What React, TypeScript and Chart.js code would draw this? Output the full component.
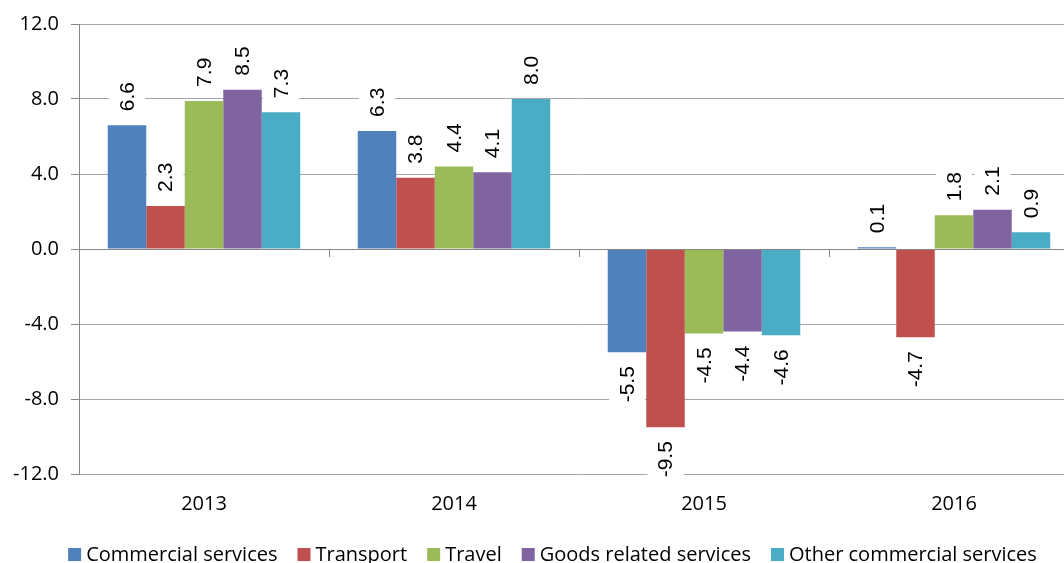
import React, { useEffect, useRef } from "react";
import { Chart, registerables } from "chart.js";

Chart.register(...registerables);

const categories = ["2013", "2014", "2015", "2016"];
const seriesNames = [
  "Commercial services",
  "Transport",
  "Travel",
  "Goods related services",
  "Other commercial services",
];
const commercialServices = [6.6, 6.3, -5.5, 0.1];
const transport = [2.3, 3.8, -9.5, -4.7];
const travel = [7.9, 4.4, -4.5, 1.8];
const goodsRelated = [8.5, 4.1, -4.4, 2.1];
const otherCommercial = [7.3, 8.0, -4.6, 0.9];
const seriesValues = [commercialServices, transport, travel, goodsRelated, otherCommercial];
const seriesColors = ["#4F81BD", "#C0504D", "#9BBB59", "#8064A2", "#4BACC6"];
const yMin = -12;
const yMax = 12;
const yStep = 4;

const AXIS_COLOR = "#868686";
const GRID_COLOR = "#A6A6A6";
const AXIS_FONT = '"Open Sans", "DejaVu Sans", sans-serif';
const LABEL_FONT = '"Liberation Sans", Arial, sans-serif';

const barLabelPlugin = {
  id: "barLabels",
  afterDatasetsDraw(chart: any) {
    const ctx = chart.ctx;
    ctx.save();
    ctx.font = `21px ${LABEL_FONT}`;
    chart.data.datasets.forEach((ds: any, di: number) => {
      const meta = chart.getDatasetMeta(di);
      meta.data.forEach((bar: any, i: number) => {
        const v = ds.data[i] as number;
        const text = v.toFixed(1);
        const w = ctx.measureText(text).width;
        const pos = v >= 0;
        ctx.save();
        ctx.translate(bar.x, pos ? bar.y - 14 : bar.y + 14);
        ctx.rotate(-Math.PI / 2);
        ctx.fillStyle = "#FFFFFF";
        if (pos) ctx.fillRect(-7, -18, w + 14, 36);
        else ctx.fillRect(-w - 7, -18, w + 14, 36);
        ctx.fillStyle = "#000000";
        ctx.textAlign = "left";
        ctx.textBaseline = "middle";
        ctx.fillText(text, pos ? 0 : -w, 1);
        ctx.restore();
      });
    });
    ctx.restore();
  },
};

const categoryTickPlugin = {
  id: "categoryTicks",
  afterDatasetsDraw(chart: any) {
    const ctx = chart.ctx;
    const xs = chart.scales.x;
    const ys = chart.scales.y;
    const y0 = ys.getPixelForValue(0);
    const n = chart.data.labels.length;
    const step = n > 1 ? xs.getPixelForValue(1) - xs.getPixelForValue(0) : xs.width;
    ctx.save();
    ctx.strokeStyle = AXIS_COLOR;
    ctx.lineWidth = 1;
    ctx.beginPath();
    ctx.moveTo(chart.chartArea.left, Math.round(y0) + 0.5);
    ctx.lineTo(chart.chartArea.right, Math.round(y0) + 0.5);
    for (let i = 0; i <= n; i++) {
      const x = Math.round(xs.getPixelForValue(0) - step / 2 + i * step) + 0.5;
      ctx.moveTo(x, y0);
      ctx.lineTo(x, y0 + 8);
    }
    ctx.stroke();
    ctx.restore();
  },
};

const customLegendPlugin = {
  id: "customLegend",
  afterDraw(chart: any) {
    const ctx = chart.ctx;
    ctx.save();
    ctx.font = `20px ${AXIS_FONT}`;
    const box = 13;
    const gap = 5;
    const spacing = 20;
    const items = chart.data.datasets.map((ds: any) => ({
      label: ds.label as string,
      color: ds.backgroundColor as string,
      w: ctx.measureText(ds.label).width,
    }));
    const total =
      items.reduce((s: number, it: any) => s + box + gap + it.w, 0) + spacing * (items.length - 1);
    let x = 552.5 - total / 2;
    const cy = 554.5;
    ctx.textBaseline = "middle";
    ctx.textAlign = "left";
    items.forEach((it: any) => {
      ctx.fillStyle = it.color;
      ctx.fillRect(x, cy - box / 2, box, box);
      ctx.fillStyle = "#000000";
      ctx.fillText(it.label, x + box + gap, cy + 1);
      x += box + gap + it.w + spacing;
    });
    ctx.restore();
  },
};

export default function App() {
  const canvasRef = useRef<HTMLCanvasElement | null>(null);

  useEffect(() => {
    if (!canvasRef.current) return;
    const chart = new Chart(canvasRef.current, {
      type: "bar",
      data: {
        labels: categories,
        datasets: seriesNames.map((name, i) => ({
          label: name,
          data: seriesValues[i],
          backgroundColor: seriesColors[i],
          borderWidth: 0,
          categoryPercentage: 0.77,
          barPercentage: 1,
        })),
      },
      options: {
        animation: false,
        responsive: false,
        layout: { padding: { top: 22, right: 11, left: 0, bottom: 0 } },
        plugins: {
          legend: { display: false },
          tooltip: { enabled: false },
        },
        scales: {
          x: {
            type: "category",
            offset: true,
            grid: { display: false, drawTicks: false },
            border: { display: false },
            ticks: {
              color: "#000000",
              font: { family: AXIS_FONT, size: 20 },
              padding: 18,
              maxRotation: 0,
            },
            afterFit(scale: any) {
              scale.height = 89;
            },
          },
          y: {
            min: yMin,
            max: yMax,
            ticks: {
              stepSize: yStep,
              color: "#000000",
              font: { family: AXIS_FONT, size: 20 },
              padding: 12,
              callback: (v: any) => Number(v).toFixed(1),
            },
            grid: {
              color: (c: any) => (c.tick && c.tick.value === 0 ? AXIS_COLOR : GRID_COLOR),
              tickColor: AXIS_COLOR,
              tickLength: 8,
              lineWidth: 1,
            },
            border: { display: true, color: AXIS_COLOR },
            afterFit(scale: any) {
              scale.width = 79;
            },
          },
        },
      },
      plugins: [barLabelPlugin, categoryTickPlugin, customLegendPlugin],
    });
    return () => chart.destroy();
  }, []);

  return (
    <div
      style={{
        position: "fixed",
        left: 0,
        top: 0,
        width: 1064,
        height: 563,
        overflow: "hidden",
        background: "#FFFFFF",
      }}
    >
      <canvas ref={canvasRef} width={1090} height={563} style={{ display: "block" }} />
    </div>
  );
}
